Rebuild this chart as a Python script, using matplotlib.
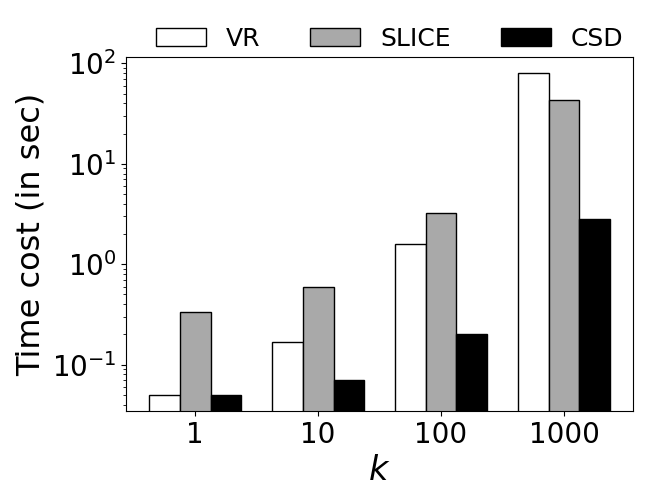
import matplotlib
matplotlib.use('Agg')
import matplotlib.pyplot as plt
import numpy as np

# Data
k_labels = ['1', '10', '100', '1000']
vr = [0.05, 0.17, 1.58, 80]
slice_ = [0.335, 0.6, 3.27, 43]
csd = [0.05, 0.07, 0.2, 2.8]

x = np.arange(len(k_labels))
w = 0.25

fig = plt.figure(figsize=(6.5, 5), dpi=100)
ax = fig.add_axes([0.194, 0.178, 0.780, 0.708])

ax.bar(x - w, vr, w, color='white', edgecolor='black', label='VR')
ax.bar(x, slice_, w, color='darkgray', edgecolor='black', label='SLICE')
ax.bar(x + w, csd, w, color='black', edgecolor='black', label='CSD')

ax.set_yscale('log')
ax.set_xticks(x)
ax.set_xticklabels(k_labels)
ax.tick_params(axis='both', labelsize=20)
ax.set_xlabel('$k$', fontsize=24)
ax.set_ylabel('Time cost (in sec)', fontsize=23)

ax.legend(loc='lower center', bbox_to_anchor=(0.52, 0.99), ncol=3,
          frameon=False, fontsize=18, borderaxespad=0)

fig.savefig('out.png', dpi=100)
